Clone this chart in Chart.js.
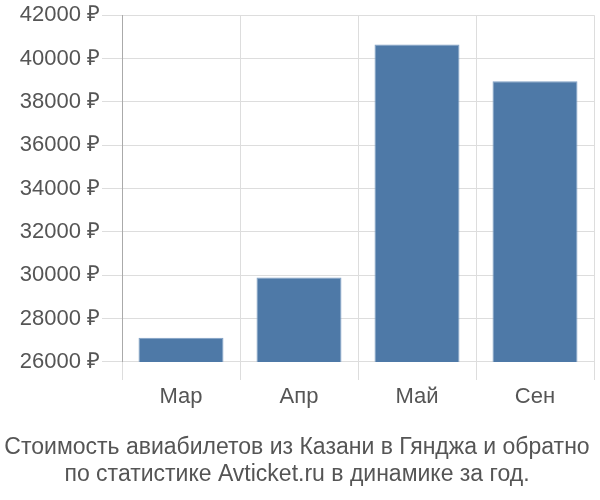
<!DOCTYPE html>
<html>
<head>
<meta charset="utf-8">
<script src="https://cdn.jsdelivr.net/npm/chart.js@4"></script>
<style>
  html, body { margin: 0; padding: 0; background: #fff; }
  #wrap { width: 600px; height: 500px; }
</style>
</head>
<body>
<div id="wrap"><canvas id="chart"></canvas></div>
<script>
// Цены по месяцам (руб.)
const months = ['Мар', 'Апр', 'Май', 'Сен'];
const prices = [27120, 29900, 40650, 38950];
const titleLines = [
  'Стоимость авиабилетов из Казани в Гянджа и обратно',
  'по статистике Avticket.ru в динамике за год.',
];

const textColor = '#555';
const gridColor = '#dddddd';
const font = '"Liberation Sans", Arial, sans-serif';

new Chart(document.getElementById('chart'), {
  type: 'bar',
  data: {
    labels: months,
    datasets: [{
      data: prices,
      backgroundColor: '#4e79a7',
      borderColor: '#7f9fc4',
      borderWidth: 1,
      categoryPercentage: 1,
      barPercentage: 0.72,
    }],
  },
  options: {
    responsive: true,
    maintainAspectRatio: false,
    animation: false,
    layout: { padding: { top: 4, right: 6, bottom: 4, left: 0 } },
    plugins: {
      legend: { display: false },
      tooltip: { enabled: false },
      title: {
        display: true,
        position: 'bottom',
        text: titleLines,
        color: textColor,
        font: { family: font, size: 23, weight: 'normal', lineHeight: 1.174 },
        padding: { top: 8, bottom: 8 },
      },
    },
    scales: {
      x: {
        grid: { color: gridColor, offset: true, tickLength: 18 },
        border: { display: false },
        ticks: {
          color: textColor,
          padding: 4,
          font: { family: font, size: 22 },
        },
        afterFit: (s) => { s.height = 64; },
      },
      y: {
        min: 26000,
        max: 42000,
        grid: { color: gridColor, tickLength: 20 },
        border: { color: '#aaaaaa' },
        ticks: {
          stepSize: 2000,
          color: textColor,
          padding: 2,
          font: { family: font, size: 22 },
          callback: (v) => v + ' ₽',
        },
        afterFit: (s) => { s.width = 122; },
      },
    },
  },
});
</script>
</body>
</html>
